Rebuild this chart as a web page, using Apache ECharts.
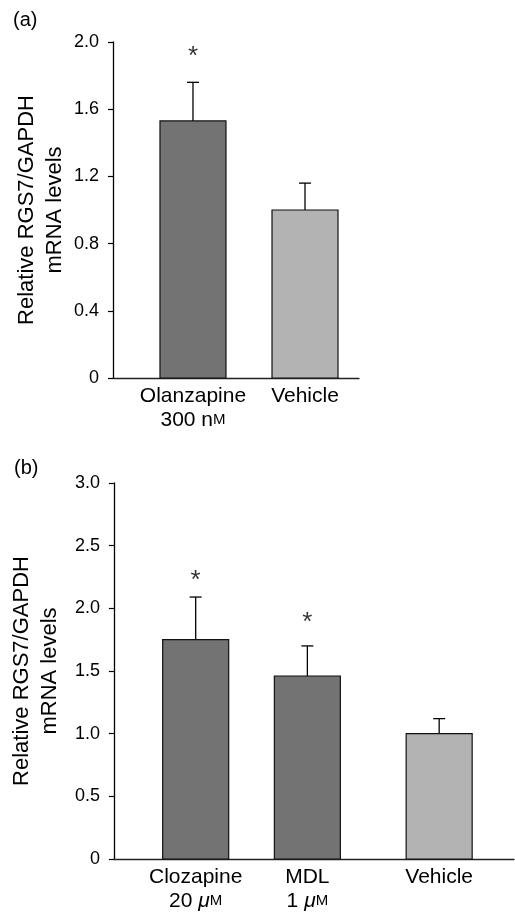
<!DOCTYPE html>
<html><head><meta charset="utf-8">
<script src="https://cdn.jsdelivr.net/npm/echarts@6/dist/echarts.min.js"></script>
<style>html,body{margin:0;padding:0;background:#fff}#c{width:515px;height:913px}</style>
</head><body><div id="c"></div>
<script>
// ---- data, panel (a) ----
const categoriesA = ['Olanzapine', 'Vehicle'];
const dosesA = ['300 nM', ''];
const meansA = [1.53, 1.00];
const errorsA = [0.23, 0.16];
const starsA = [1.95, null];
const yTicksA = [0, 0.4, 0.8, 1.2, 1.6, 2.0];

// ---- data, panel (b) ----
const categoriesB = ['Clozapine', 'MDL', 'Vehicle'];
const dosesB = ['20 μM', '1 μM', ''];
const meansB = [1.75, 1.46, 1.00];
const errorsB = [0.34, 0.24, 0.12];
const starsB = [2.27, 1.93, null];
const yTicksB = [0, 0.5, 1.0, 1.5, 2.0, 2.5, 3.0];

// ---- layout (slot positions along the x axis, in bar-spacing units) ----
const slotsA = [0, 1];
const slotsB = [0, 1, 2.18];
const xRangeA = [-0.714, 1.482];
const xRangeB = [-0.732, 2.85];

const FONT = 'Liberation Sans, Arial, Helvetica, sans-serif';
const DRUG = '#737373', VEH = '#b3b3b3';

function doseRich(s) {
  return s.replace('μM', '{mu|μ}{sc|M}').replace('nM', 'n{sc|M}');
}
function labelFmt(slots, cats, doses) {
  return function (v) {
    let i = -1;
    for (let k = 0; k < slots.length; k++) if (Math.abs(slots[k] - v) < 1e-6) i = k;
    if (i < 0) return '';
    return doses[i] ? cats[i] + '\n' + doseRich(doses[i]) : cats[i];
  };
}
function yFmt(v) { return v === 0 ? '0' : v.toFixed(1); }

function renderBar(params, api) {
  const x = api.value(0), m = api.value(1), e = api.value(2);
  const base = api.coord([x, 0]);
  const top = api.coord([x, m]);
  const etop = api.coord([x, m + e]);
  const half = 33, cap = 6;
  return {
    type: 'group',
    children: [
      { type: 'line', shape: { x1: top[0], y1: top[1], x2: etop[0], y2: etop[1] },
        style: { stroke: '#000', lineWidth: 1.3 } },
      { type: 'line', shape: { x1: etop[0] - cap, y1: etop[1], x2: etop[0] + cap, y2: etop[1] },
        style: { stroke: '#000', lineWidth: 1.3 } },
      { type: 'rect', shape: { x: base[0] - half, y: top[1], width: half * 2, height: base[1] - top[1] },
        style: { fill: api.visual('color'), stroke: '#111', lineWidth: 1.2 } }
    ]
  };
}

function barData(slots, cats, means, errors) {
  return slots.map((s, i) => ({
    value: [s, means[i], errors[i]],
    itemStyle: { color: cats[i] === 'Vehicle' ? VEH : DRUG }
  }));
}
function starData(slots, stars) {
  const out = [];
  slots.forEach((s, i) => { if (stars[i] != null) out.push([s, stars[i]]); });
  return out;
}

function xAxisDef(idx, range, slots, cats, doses) {
  return {
    gridIndex: idx, type: 'value', min: range[0], max: range[1],
    splitLine: { show: false },
    axisLine: { show: true, onZero: false, lineStyle: { color: '#222', width: 1.3 } },
    axisTick: { show: false },
    axisLabel: {
      customValues: slots, formatter: labelFmt(slots, cats, doses),
      color: '#000', fontFamily: FONT, fontSize: 21, lineHeight: 24, margin: 6,
      rich: {
        sc: { fontSize: 15, lineHeight: 24, fontFamily: FONT, color: '#000' },
        mu: { fontSize: 21, lineHeight: 24, fontStyle: 'italic', fontFamily: FONT, color: '#000' }
      }
    }
  };
}
function yAxisDef(idx, ticks) {
  return {
    gridIndex: idx, type: 'value', min: ticks[0], max: ticks[ticks.length - 1],
    interval: ticks[1] - ticks[0],
    name: 'Relative RGS7/GAPDH\nmRNA levels', nameLocation: 'middle', nameGap: 44,
    nameTextStyle: { fontFamily: FONT, fontSize: 22, lineHeight: 28, color: '#000' },
    splitLine: { show: false },
    axisLine: { show: true, onZero: false, lineStyle: { color: '#000', width: 1.3 } },
    axisTick: { show: true, length: 5, lineStyle: { color: '#000', width: 1.2 } },
    axisLabel: { formatter: yFmt, color: '#000', fontFamily: FONT, fontSize: 18, margin: 14 }
  };
}

const chart = echarts.init(document.getElementById('c'), null, { renderer: 'canvas' });
chart.setOption({
  backgroundColor: '#fff',
  animation: false,
  title: [
    { text: '(a)', left: 13, top: 10, padding: 0, textStyle: { fontFamily: FONT, fontSize: 20, fontWeight: 'normal', color: '#000' } },
    { text: '(b)', left: 14, top: 458, padding: 0, textStyle: { fontFamily: FONT, fontSize: 20, fontWeight: 'normal', color: '#000' } }
  ],
  grid: [
    { left: 113, top: 42, width: 246, height: 336 },
    { left: 113, top: 483, width: 401, height: 377 }
  ],
  xAxis: [
    xAxisDef(0, xRangeA, slotsA, categoriesA, dosesA),
    xAxisDef(1, xRangeB, slotsB, categoriesB, dosesB)
  ],
  yAxis: [yAxisDef(0, yTicksA), yAxisDef(1, yTicksB)],
  series: [
    { type: 'custom', xAxisIndex: 0, yAxisIndex: 0, renderItem: renderBar, silent: true,
      data: barData(slotsA, categoriesA, meansA, errorsA) },
    { type: 'custom', xAxisIndex: 1, yAxisIndex: 1, renderItem: renderBar, silent: true,
      data: barData(slotsB, categoriesB, meansB, errorsB) },
    { type: 'scatter', xAxisIndex: 0, yAxisIndex: 0, symbolSize: 0, silent: true,
      label: { show: true, formatter: '*', position: 'inside', offset: [0, 6], fontFamily: FONT, fontSize: 26, color: '#000' },
      data: starData(slotsA, starsA) },
    { type: 'scatter', xAxisIndex: 1, yAxisIndex: 1, symbolSize: 0, silent: true,
      label: { show: true, formatter: '*', position: 'inside', offset: [0, 6], fontFamily: FONT, fontSize: 26, color: '#000' },
      data: starData(slotsB, starsB) }
  ]
});
</script>
</body></html>
